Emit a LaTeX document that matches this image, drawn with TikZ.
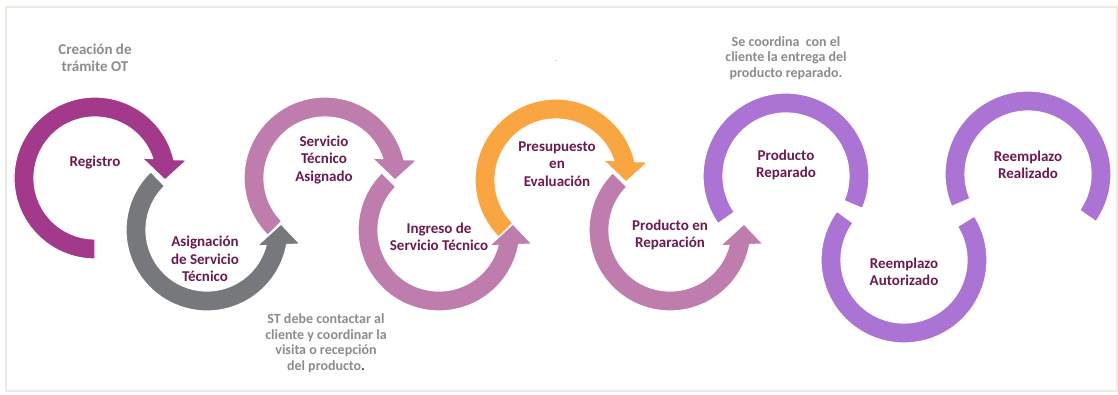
\documentclass[tikz,border=0pt]{standalone}
\usepackage{fontspec}
\setmainfont{Carlito}
\definecolor{labelc}{HTML}{6B1B4F}
\definecolor{notec}{HTML}{8C8C8C}
\definecolor{framec}{HTML}{EEEAE2}
\definecolor{cmag}{HTML}{A2398B}
\definecolor{cgray}{HTML}{77787B}
\definecolor{cpink}{HTML}{BF7DAD}
\definecolor{corange}{HTML}{F9A541}
\definecolor{clav}{HTML}{AB73D3}
\newcommand{\TopRing}[3]{%
  \begin{scope}[shift={(#1)}]
    \filldraw[ring, fill=#3] (#2:81) arc[start angle=#2, end angle=13.1, radius=81]
      -- (92,18) -- (70,-2) -- (47,20) -- (18.6:61)
      arc[start angle=18.6, end angle=#2, radius=61] -- cycle;
  \end{scope}}
\newcommand{\BotRing}[3]{%
  \begin{scope}[shift={(#1)}]
    \filldraw[ring, fill=#3] (#2:81) arc[start angle=#2, end angle=349.6, radius=81]
      -- (93,-14) -- (74,6) -- (50,-16) -- (345.3:61)
      arc[start angle=345.3, end angle=#2, radius=61] -- cycle;
  \end{scope}}
\newcommand{\PlainRing}[4]{%
  \begin{scope}[shift={(#1)}]
    \filldraw[ring, fill=#4] (#2:83) arc[start angle=#2, end angle=#3, radius=83]
      -- (#3:63) arc[start angle=#3, end angle=#2, radius=63] -- cycle;
  \end{scope}}
\begin{document}
\begin{tikzpicture}[x=1pt,y=1pt,
  ring/.style={draw=white, line width=1.2pt, line join=round},
  lbl/.style={font=\bfseries\fontsize{15}{17.5}\selectfont, text=labelc, align=center, inner sep=0pt},
  note/.style={font=\bfseries\fontsize{14}{15.5}\selectfont, text=notec, align=center, inner sep=0pt}]
\useasboundingbox (0,0) rectangle (1118,394);
\fill[white] (0,0) rectangle (1118,394);
\draw[framec, line width=1.5pt] (6,3) rectangle (1117,387);

% centres
\coordinate (c1) at (95,216);
\coordinate (c2) at (207,164);
\coordinate (c3) at (325,216);
\coordinate (c4) at (439,164);
\coordinate (c5) at (556,214);
\coordinate (c6) at (670,164);
\coordinate (c7) at (786,218);
\coordinate (c8) at (904,134);
\coordinate (c9) at (1028,220);

% labels
\node[lbl] (l1) at (95,231) {Registro};
\node[lbl] (l2) at (205,135) {Asignación\\de Servicio\\Técnico};
\node[lbl] (l3) at (324,234) {Servicio\\Técnico\\Asignado};
\node[lbl] (l4) at (439,157) {Ingreso de\\Servicio Técnico};
\node[lbl] (l5) at (557,230) {Presupuesto\\en\\Evaluación};
\node[lbl] (l6) at (670,159) {Producto en\\Reparación};
\node[lbl] (l7) at (786,229) {Producto\\Reparado};
\node[lbl] (l8) at (904,122) {Reemplazo\\Autorizado};
\node[lbl] (l9) at (1028,229) {Reemplazo\\Realizado};

% notes
\node[note, font=\bfseries\fontsize{15}{17}\selectfont] (n1) at (95,336) {Creación de\\trámite OT};
\node[note] (n2) at (326,51) {ST debe contactar al\\cliente y coordinar la\\visita o recepción\\del producto{\color{labelc}.}};
\node[note] (n3) at (786,336) {Se coordina~ con el\\cliente la entrega del\\producto reparado.};
\node[note, font=\fontsize{8}{8}\selectfont] (dot) at (556,333) {.};

% rings, last first so each arrow lies over the next ring
\PlainRing{c9}{203}{-35}{clav}
\PlainRing{c8}{144}{392}{clav}
\PlainRing{c7}{215}{-23}{clav}
\BotRing{c6}{135}{cpink}
\TopRing{c5}{225}{corange}
\BotRing{c4}{135}{cpink}
\TopRing{c3}{225}{cpink}
\BotRing{c2}{134}{cgray}
\TopRing{c1}{270}{cmag}
\end{tikzpicture}
\end{document}
